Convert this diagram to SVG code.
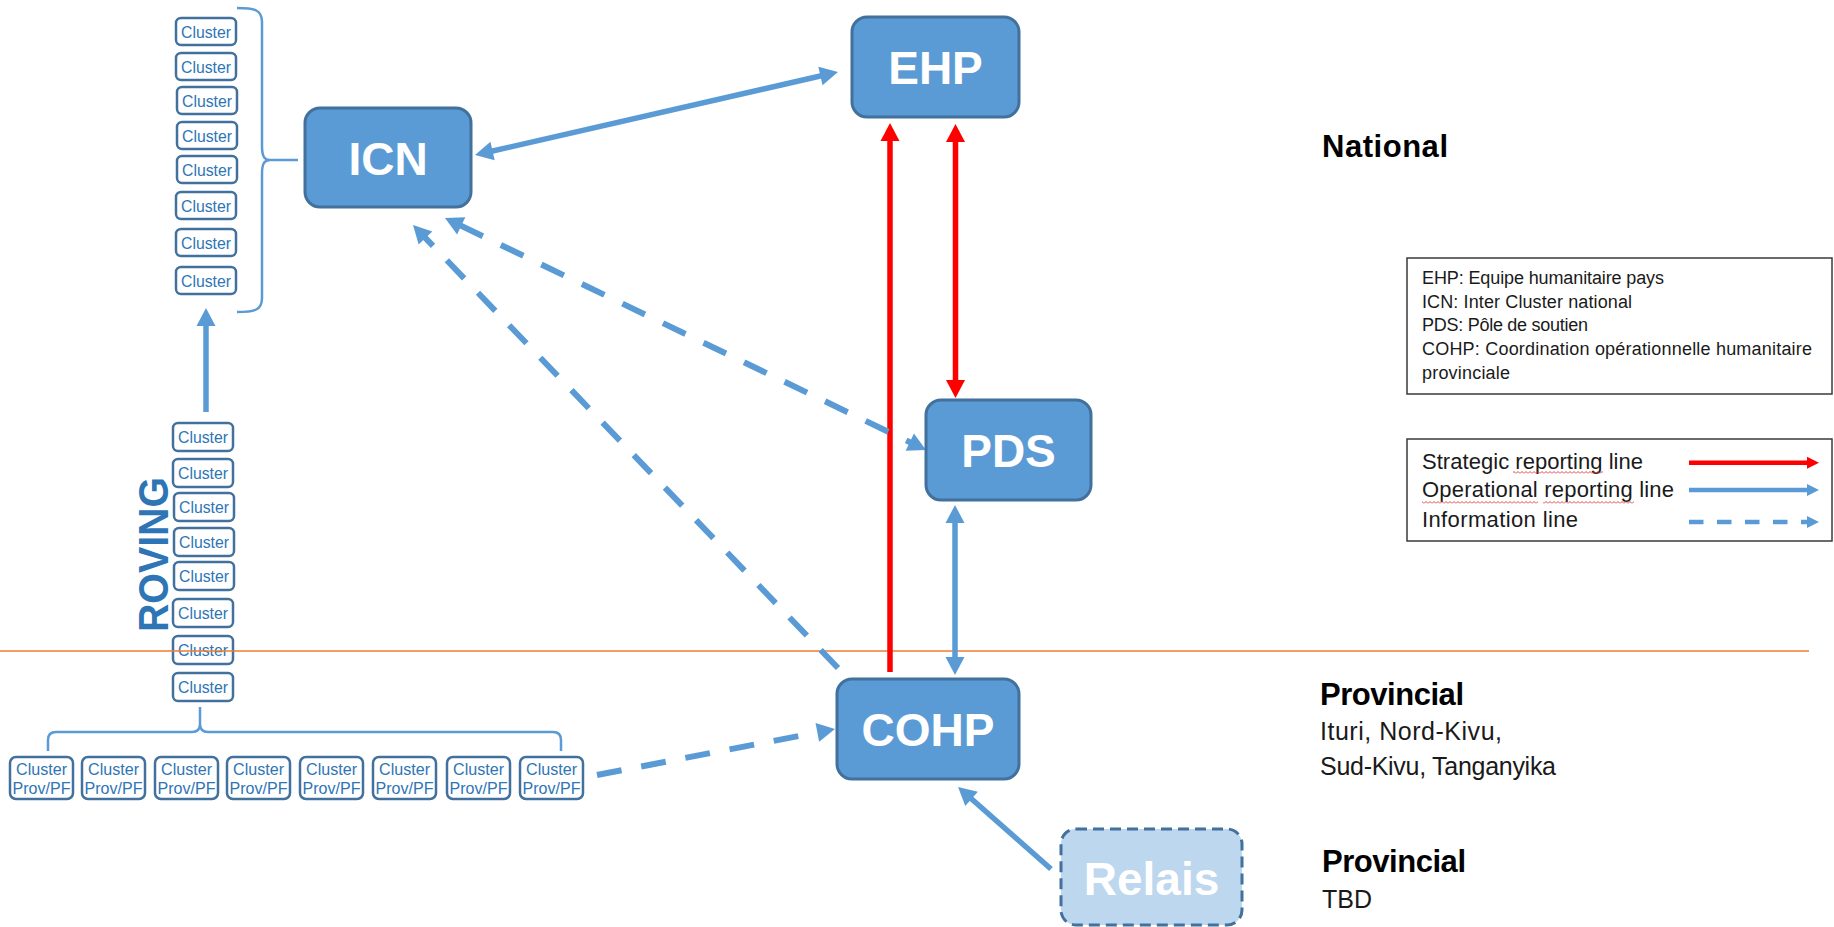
<svg xmlns="http://www.w3.org/2000/svg" width="1834" height="927" viewBox="0 0 1834 927">
<style>
  .node { fill: #5B9BD5; stroke: #41719C; stroke-width: 3; }
  .relais { fill: #BDD7EE; stroke: #41719C; stroke-width: 3; stroke-dasharray: 11 6; }
  .nlabel { font-family: "Liberation Sans", Arial, sans-serif; font-weight: bold; font-size: 46px; fill: #FFFFFF; text-anchor: middle; }
  .cbox { fill: #FFFFFF; stroke: #41719C; stroke-width: 2.5; }
  .ctext { font-family: "Liberation Sans", Arial, sans-serif; font-size: 17px; fill: #2E75B6; text-anchor: middle; }
  .brace { fill: none; stroke: #5B9BD5; stroke-width: 2.5; }
  .solid { fill: none; stroke: #5B9BD5; stroke-width: 5.5; }
  .dash { fill: none; stroke: #5B9BD5; stroke-width: 6; stroke-dasharray: 25 20; }
  .red { fill: none; stroke: #FF0000; stroke-width: 5.5; }
  .title { font-family: "Liberation Sans", Arial, sans-serif; font-weight: bold; font-size: 31px; fill: #000000; }
  .sub { font-family: "Liberation Sans", Arial, sans-serif; font-size: 25px; fill: #1a1a1a; }
  .leg1 { font-family: "Liberation Sans", Arial, sans-serif; font-size: 18px; fill: #1a1a1a; }
  .leg2 { font-family: "Liberation Sans", Arial, sans-serif; font-size: 22px; fill: #1a1a1a; }
  .legbox { fill: #FFFFFF; stroke: #3A3A3A; stroke-width: 1.5; }
</style>
<defs>
  <marker id="arB" markerUnits="userSpaceOnUse" markerWidth="20" markerHeight="20" refX="1" refY="9.5" orient="auto-start-reverse" overflow="visible">
    <path d="M0,0 L18,9.5 L0,19 Z" fill="#5B9BD5"/>
  </marker>
  <marker id="arR" markerUnits="userSpaceOnUse" markerWidth="20" markerHeight="20" refX="1" refY="9.5" orient="auto-start-reverse" overflow="visible">
    <path d="M0,0 L18,9.5 L0,19 Z" fill="#FF0000"/>
  </marker>
  <marker id="arBs" markerUnits="userSpaceOnUse" markerWidth="14" markerHeight="14" refX="1" refY="6" orient="auto" overflow="visible">
    <path d="M0,0 L12,6 L0,12 Z" fill="#5B9BD5"/>
  </marker>
  <marker id="arRs" markerUnits="userSpaceOnUse" markerWidth="14" markerHeight="14" refX="1" refY="6" orient="auto" overflow="visible">
    <path d="M0,0 L12,6 L0,12 Z" fill="#FF0000"/>
  </marker>
  <pattern id="squig" width="4" height="3" patternUnits="userSpaceOnUse">
    <path d="M0,2.5 L2,0.5 L4,2.5" fill="none" stroke="#E03030" stroke-width="0.9"/>
  </pattern>
</defs>

<rect width="1834" height="927" fill="#FFFFFF"/>

<!-- Upper cluster column -->
<g id="clusters-national">
  <rect class="cbox" x="176" y="18" width="60" height="27" rx="5"/><text class="ctext" x="206" y="38" textLength="50" lengthAdjust="spacingAndGlyphs">Cluster</text>
  <rect class="cbox" x="176" y="53" width="60" height="27" rx="5"/><text class="ctext" x="206" y="73" textLength="50" lengthAdjust="spacingAndGlyphs">Cluster</text>
  <rect class="cbox" x="177" y="87" width="60" height="27" rx="5"/><text class="ctext" x="207" y="107" textLength="50" lengthAdjust="spacingAndGlyphs">Cluster</text>
  <rect class="cbox" x="177" y="122" width="60" height="27" rx="5"/><text class="ctext" x="207" y="142" textLength="50" lengthAdjust="spacingAndGlyphs">Cluster</text>
  <rect class="cbox" x="177" y="156" width="60" height="27" rx="5"/><text class="ctext" x="207" y="176" textLength="50" lengthAdjust="spacingAndGlyphs">Cluster</text>
  <rect class="cbox" x="176" y="192" width="60" height="27" rx="5"/><text class="ctext" x="206" y="212" textLength="50" lengthAdjust="spacingAndGlyphs">Cluster</text>
  <rect class="cbox" x="176" y="229" width="60" height="27" rx="5"/><text class="ctext" x="206" y="249" textLength="50" lengthAdjust="spacingAndGlyphs">Cluster</text>
  <rect class="cbox" x="176" y="267" width="60" height="27" rx="5"/><text class="ctext" x="206" y="287" textLength="50" lengthAdjust="spacingAndGlyphs">Cluster</text>
  <path class="brace" d="M237,8 C255,8 262,10 262,22 L262,146 C262,156 264,160 270,160 C264,160 262,164 262,174 L262,298 C262,310 255,312 237,312 M268,160 L298,160"/>
</g>

<!-- Roving cluster column -->
<g id="clusters-roving">
  <text x="168" y="632" transform="rotate(-90 168 632)" font-family="Liberation Sans, Arial, sans-serif" font-weight="bold" font-size="42" fill="#2E75B6" textLength="155" lengthAdjust="spacingAndGlyphs">ROVING</text>
  <rect class="cbox" x="173" y="423" width="60" height="28" rx="5"/><text class="ctext" x="203" y="443" textLength="50" lengthAdjust="spacingAndGlyphs">Cluster</text>
  <rect class="cbox" x="173" y="459" width="60" height="28" rx="5"/><text class="ctext" x="203" y="479" textLength="50" lengthAdjust="spacingAndGlyphs">Cluster</text>
  <rect class="cbox" x="174" y="493" width="60" height="28" rx="5"/><text class="ctext" x="204" y="513" textLength="50" lengthAdjust="spacingAndGlyphs">Cluster</text>
  <rect class="cbox" x="174" y="528" width="60" height="28" rx="5"/><text class="ctext" x="204" y="548" textLength="50" lengthAdjust="spacingAndGlyphs">Cluster</text>
  <rect class="cbox" x="174" y="562" width="60" height="28" rx="5"/><text class="ctext" x="204" y="582" textLength="50" lengthAdjust="spacingAndGlyphs">Cluster</text>
  <rect class="cbox" x="173" y="599" width="60" height="28" rx="5"/><text class="ctext" x="203" y="619" textLength="50" lengthAdjust="spacingAndGlyphs">Cluster</text>
  <rect class="cbox" x="173" y="636" width="60" height="28" rx="5"/><text class="ctext" x="203" y="656" textLength="50" lengthAdjust="spacingAndGlyphs">Cluster</text>
  <rect class="cbox" x="173" y="673" width="60" height="28" rx="5"/><text class="ctext" x="203" y="693" textLength="50" lengthAdjust="spacingAndGlyphs">Cluster</text>
  <path class="brace" d="M48,751 L48,740 Q48,732 56,732 L192,732 Q200,732 200,724 L200,707 M200,724 Q200,732 208,732 L553,732 Q561,732 561,740 L561,751"/>
</g>

<!-- Provincial clusters -->
<g id="clusters-provincial">
  <rect class="cbox" x="10" y="757" width="63" height="42" rx="6"/><text class="ctext" x="41.5" y="775" textLength="51" lengthAdjust="spacingAndGlyphs">Cluster</text><text class="ctext" x="41.5" y="794" textLength="58" lengthAdjust="spacingAndGlyphs">Prov/PF</text>
  <rect class="cbox" x="82" y="757" width="63" height="42" rx="6"/><text class="ctext" x="113.5" y="775" textLength="51" lengthAdjust="spacingAndGlyphs">Cluster</text><text class="ctext" x="113.5" y="794" textLength="58" lengthAdjust="spacingAndGlyphs">Prov/PF</text>
  <rect class="cbox" x="155" y="757" width="63" height="42" rx="6"/><text class="ctext" x="186.5" y="775" textLength="51" lengthAdjust="spacingAndGlyphs">Cluster</text><text class="ctext" x="186.5" y="794" textLength="58" lengthAdjust="spacingAndGlyphs">Prov/PF</text>
  <rect class="cbox" x="227" y="757" width="63" height="42" rx="6"/><text class="ctext" x="258.5" y="775" textLength="51" lengthAdjust="spacingAndGlyphs">Cluster</text><text class="ctext" x="258.5" y="794" textLength="58" lengthAdjust="spacingAndGlyphs">Prov/PF</text>
  <rect class="cbox" x="300" y="757" width="63" height="42" rx="6"/><text class="ctext" x="331.5" y="775" textLength="51" lengthAdjust="spacingAndGlyphs">Cluster</text><text class="ctext" x="331.5" y="794" textLength="58" lengthAdjust="spacingAndGlyphs">Prov/PF</text>
  <rect class="cbox" x="373" y="757" width="63" height="42" rx="6"/><text class="ctext" x="404.5" y="775" textLength="51" lengthAdjust="spacingAndGlyphs">Cluster</text><text class="ctext" x="404.5" y="794" textLength="58" lengthAdjust="spacingAndGlyphs">Prov/PF</text>
  <rect class="cbox" x="447" y="757" width="63" height="42" rx="6"/><text class="ctext" x="478.5" y="775" textLength="51" lengthAdjust="spacingAndGlyphs">Cluster</text><text class="ctext" x="478.5" y="794" textLength="58" lengthAdjust="spacingAndGlyphs">Prov/PF</text>
  <rect class="cbox" x="520" y="757" width="63" height="42" rx="6"/><text class="ctext" x="551.5" y="775" textLength="51" lengthAdjust="spacingAndGlyphs">Cluster</text><text class="ctext" x="551.5" y="794" textLength="58" lengthAdjust="spacingAndGlyphs">Prov/PF</text>
</g>

<!-- Level separator -->
<line x1="0" y1="651" x2="1809" y2="651" stroke="#ED7D31" stroke-width="1.5"/>

<!-- Connectors -->
<g id="connectors">
  <path class="solid" d="M491.6,151.2 L821.4,75.8" marker-start="url(#arB)" marker-end="url(#arB)"/>
  <path class="red" d="M890,672 L890,140" marker-end="url(#arR)"/>
  <path class="red" d="M955.5,141 L955.5,381" marker-start="url(#arR)" marker-end="url(#arR)"/>
  <path class="solid" d="M955,522 L955,658" marker-start="url(#arB)" marker-end="url(#arB)"/>
  <path class="dash" d="M838,668 L424.8,237.3" marker-end="url(#arB)"/>
  <path class="dash" d="M460.3,225.4 L910.7,442.6" marker-start="url(#arB)" marker-end="url(#arB)"/>
  <path class="dash" d="M597,775 L818.3,732.2" marker-end="url(#arB)"/>
  <path class="solid" d="M1051,869 L970.8,798.2" marker-end="url(#arB)"/>
  <path class="solid" d="M206,412 L206,325" marker-end="url(#arB)"/>
</g>

<!-- Nodes -->
<g id="node-icn">
  <rect class="node" x="305" y="108" width="166" height="99" rx="15"/>
  <text class="nlabel" x="388" y="175">ICN</text>
</g>
<g id="node-ehp">
  <rect class="node" x="852" y="17" width="167" height="100" rx="15"/>
  <text class="nlabel" x="935.5" y="84">EHP</text>
</g>
<g id="node-pds">
  <rect class="node" x="926" y="400" width="165" height="100" rx="15"/>
  <text class="nlabel" x="1008.5" y="467">PDS</text>
</g>
<g id="node-cohp">
  <rect class="node" x="837" y="679" width="182" height="100" rx="15"/>
  <text class="nlabel" x="928" y="746">COHP</text>
</g>
<g id="node-relais">
  <rect class="relais" x="1061" y="829" width="181" height="96" rx="15"/>
  <text class="nlabel" x="1151.5" y="895">Relais</text>
</g>

<!-- Level labels -->
<g id="level-labels">
  <text class="title" x="1322" y="157" textLength="126">National</text>
  <text class="title" x="1320" y="705" textLength="144">Provincial</text>
  <text class="sub" x="1320" y="740" textLength="182">Ituri, Nord-Kivu,</text>
  <text class="sub" x="1320" y="775" textLength="236">Sud-Kivu, Tanganyika</text>
  <text class="title" x="1322" y="872" textLength="144">Provincial</text>
  <text class="sub" x="1322" y="908" font-size="23">TBD</text>
</g>

<!-- Legend: abbreviations -->
<g id="legend-abbrev">
  <rect class="legbox" x="1407" y="258" width="425" height="136"/>
  <text class="leg1" x="1422" y="283.5" textLength="242">EHP: Equipe humanitaire pays</text>
  <text class="leg1" x="1422" y="307.5" textLength="210">ICN: Inter Cluster national</text>
  <text class="leg1" x="1422" y="331" textLength="166">PDS: Pôle de soutien</text>
  <text class="leg1" x="1422" y="355" textLength="390">COHP: Coordination opérationnelle humanitaire</text>
  <text class="leg1" x="1422" y="379" textLength="88">provinciale</text>
</g>

<!-- Legend: line types -->
<g id="legend-lines">
  <rect class="legbox" x="1407" y="439" width="425" height="102"/>
  <text class="leg2" x="1422" y="469" textLength="221">Strategic reporting line</text>
  <text class="leg2" x="1422" y="497" textLength="252">Operational reporting line</text>
  <text class="leg2" x="1422" y="527" textLength="156">Information line</text>
  <rect x="1513" y="471" width="90" height="3" fill="url(#squig)"/>
  <rect x="1422" y="501" width="116" height="3" fill="url(#squig)"/>
  <rect x="1543" y="501" width="91" height="3" fill="url(#squig)"/>
  <path d="M1689,462.7 L1808,462.7" stroke="#FF0000" stroke-width="4.5" fill="none" marker-end="url(#arRs)"/>
  <path d="M1689,490 L1808,490" stroke="#5B9BD5" stroke-width="4.5" fill="none" marker-end="url(#arBs)"/>
  <path d="M1689,522 L1808,522" stroke="#5B9BD5" stroke-width="4.5" stroke-dasharray="14.5 13.5" fill="none" marker-end="url(#arBs)"/>
</g>
</svg>
